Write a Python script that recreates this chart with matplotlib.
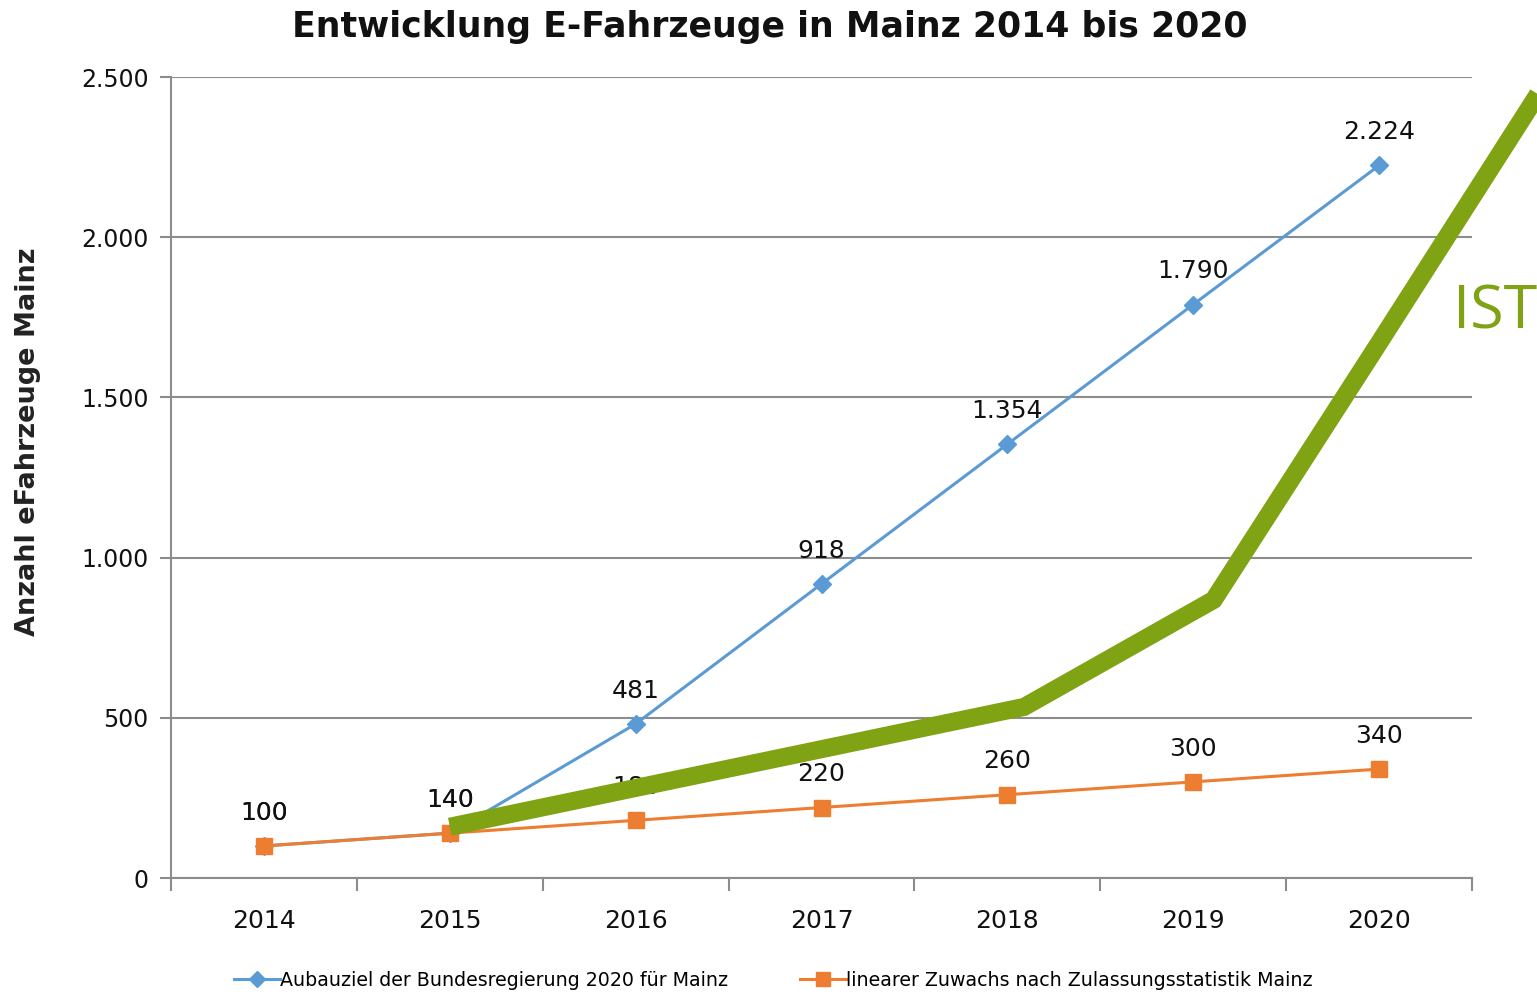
import matplotlib
matplotlib.use('Agg')
import matplotlib.pyplot as plt
from matplotlib.ticker import FuncFormatter

# data
years = [2014, 2015, 2016, 2017, 2018, 2019, 2020]
ziel = [100, 140, 481, 918, 1354, 1790, 2224]
linear = [100, 140, 180, 220, 260, 300, 340]
# hand drawn "IST" line (x in years, runs off the picture on the right)
ist_x = [2015.0, 2018.09, 2019.11, 2020.0, 2021.3]
ist_y = [160, 534, 868, 1670, 2850]

blue = '#5B9BD5'
orange = '#ED7D31'
green = '#7FA313'
grey = '#8C8C8C'

plt.rcParams['font.family'] = 'DejaVu Sans'

fig = plt.figure(figsize=(15.37, 9.94), dpi=100)
ax = fig.add_axes([0.1113, 0.1167, 0.8464, 0.8058])

ax.plot(years, ziel, color=blue, lw=2.2, marker='D', ms=9, zorder=3,
        label='Aubauziel der Bundesregierung 2020 für Mainz')
ax.plot(years, linear, color=orange, lw=2.2, marker='s', ms=11, zorder=4,
        label='linearer Zuwachs nach Zulassungsstatistik Mainz')

def de(v):
    return f'{v:,.0f}'.replace(',', '.')

for x, v in zip(years, ziel):
    ax.annotate(de(v), (x, v), xytext=(0, 24), textcoords='offset points',
                ha='center', va='center', fontsize=18, color='#111111', zorder=2)
for x, v in zip(years, linear):
    ax.annotate(de(v), (x, v), xytext=(0, 24), textcoords='offset points',
                ha='center', va='center', fontsize=18, color='#111111', zorder=2)

ax.plot(ist_x, ist_y, color=green, lw=13, solid_capstyle='butt',
        solid_joinstyle='miter', zorder=6, clip_on=False)
fig.text(1453 / 1537, 1 - 312 / 994, 'IST', color=green, fontsize=44,
         family='Open Sans', ha='left', va='center')

ax.set_xlim(2013.5, 2020.5)
ax.set_ylim(0, 2500)
ax.set_yticks(range(0, 2501, 500))
ax.yaxis.set_major_formatter(FuncFormatter(lambda v, p: de(v)))
ax.set_xticks([y - 0.5 for y in years] + [2020.5])
ax.set_xticklabels([])
ax.set_xticks(years, minor=True)
ax.set_xticklabels([str(y) for y in years], minor=True)
ax.tick_params(axis='x', which='minor', length=0, labelsize=18, pad=22, colors='#111111')
ax.tick_params(axis='x', which='major', length=9, width=1.5, color=grey)
ax.tick_params(axis='y', length=8, width=1.5, color=grey, labelsize=17,
               pad=8, labelcolor='#111111')

ax.grid(axis='y', color=grey, lw=1.5)
ax.set_axisbelow(True)
for s in ['top', 'right']:
    ax.spines[s].set_visible(False)
for s in ['left', 'bottom']:
    ax.spines[s].set_color(grey)
    ax.spines[s].set_linewidth(1.5)

ax.set_ylabel('Anzahl eFahrzeuge Mainz', fontsize=19.5, fontweight='bold',
              color='#222222')
ax.yaxis.set_label_coords(-(171 - 41) / 1301, (878 - 442) / 801)
fig.text(0.501, 1 - 27 / 994, 'Entwicklung E-Fahrzeuge in Mainz 2014 bis 2020',
         ha='center', va='center', fontsize=25, fontweight='bold', color='#111111')

fig.legend(loc='center', bbox_to_anchor=(0.503, 1 - 980 / 994), ncol=2,
           frameon=False, fontsize=13.7, handlelength=2.4, handletextpad=0.0,
           columnspacing=3.8, markerscale=0.9)

fig.savefig('out.png', dpi=100)
